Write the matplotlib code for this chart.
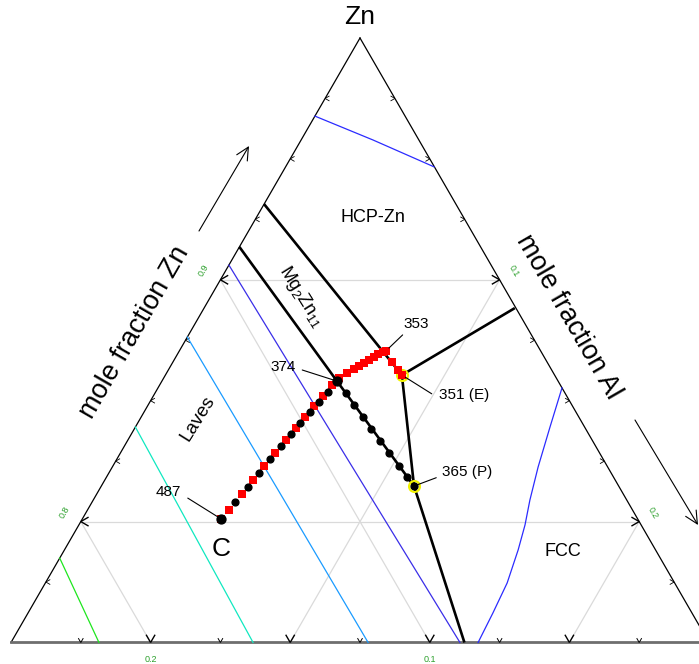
import numpy as np
import matplotlib.pyplot as plt
from matplotlib.patches import FancyArrowPatch

plt.rcParams['font.family'] = ['Liberation Sans', 'DejaVu Sans']
plt.rcParams['mathtext.fontset'] = 'custom'
plt.rcParams['mathtext.rm'] = 'Liberation Sans'

# ---- data: compositions as (x_Al, x_Zn), x_Mg = 1 - x_Al - x_Zn ----
ZN_MIN = 0.75  # lower edge of the zoomed Zn corner

# phase boundaries
hcp_mg2zn11_al = [0.0, 0.0847]
hcp_mg2zn11_zn = [0.9313, 0.8606]
laves_mg2zn11_al = [0.0, 0.0627, 0.1120]
laves_mg2zn11_zn = [0.9136, 0.8581, 0.8147]
hcp_fcc_al = [0.0847, 0.1113]
hcp_fcc_zn = [0.8606, 0.8883]
fcc_mg2zn11_al = [0.0847, 0.1120, 0.1624]
fcc_mg2zn11_zn = [0.8606, 0.8147, 0.7500]

# liquidus isotherms
iso_top_al = [0.0, 0.0258, 0.0532]
iso_top_zn = [0.9677, 0.9578, 0.9467]
iso_blue_al = [0.0, 0.0809, 0.1608]
iso_blue_zn = [0.9061, 0.8275, 0.7500]
iso_sky_al = [0.0, 0.0641, 0.1279]
iso_sky_zn = [0.8763, 0.8131, 0.7500]
iso_cyan_al = [0.0, 0.0867]
iso_cyan_zn = [0.8391, 0.7500]
iso_green_al = [0.0, 0.0315]
iso_green_zn = [0.7849, 0.7500]
iso_fcc_al = [0.1447, 0.1485, 0.1525, 0.1564, 0.1598, 0.1625, 0.1654, 0.1665, 0.1673]
iso_fcc_zn = [0.8553, 0.8391, 0.8226, 0.8089, 0.7986, 0.7883, 0.7746, 0.7622, 0.7500]

# solidification paths from alloy C
path_red_al = [0.0497, 0.0507, 0.0520, 0.0531, 0.0541, 0.0554, 0.0566, 0.0577,
               0.0588, 0.0598, 0.0608, 0.0617, 0.0628, 0.0646, 0.0663, 0.0675,
               0.0686, 0.0698, 0.0710, 0.0718, 0.0732, 0.0740, 0.0785, 0.0823, 0.0847]
path_red_zn = [0.8011, 0.8048, 0.8114, 0.8172, 0.8230, 0.8284, 0.8337, 0.8387,
               0.8433, 0.8478, 0.8519, 0.8565, 0.8594, 0.8615, 0.8631, 0.8644,
               0.8656, 0.8668, 0.8681, 0.8693, 0.8701, 0.8706, 0.8660, 0.8627, 0.8606]
path_black_al = [0.0497, 0.0512, 0.0527, 0.0538, 0.0548, 0.0561, 0.0572, 0.0581,
                 0.0594, 0.0606, 0.0617, 0.0627, 0.0684, 0.0737, 0.0795, 0.0848,
                 0.0905, 0.0962, 0.1025, 0.1076, 0.1120]
path_black_zn = [0.8011, 0.8081, 0.8143, 0.8201, 0.8259, 0.8313, 0.8362, 0.8408,
                 0.8453, 0.8495, 0.8536, 0.8581, 0.8532, 0.8482, 0.8433, 0.8383,
                 0.8333, 0.8284, 0.8230, 0.8184, 0.8147]

# labelled points (temperatures in deg C)
pt_names = ['C', '374', '353', 'E', 'P']
pt_al = [0.0497, 0.0627, 0.0740, 0.0847, 0.1120]
pt_zn = [0.8011, 0.8581, 0.8706, 0.8606, 0.8147]
pt_text = ['487', '374', '353', '351 (E)', '365 (P)']

zn_ticks = [0.8, 0.9]
al_ticks = [0.1, 0.2]
mg_ticks = [0.1, 0.2]


def tern(al, zn):
    al = np.asarray(al, float)
    zn = np.asarray(zn, float)
    mg = 1 - al - zn
    return (al - mg) / 2, zn * np.sqrt(3) / 2


PX = 2792.0  # pixels per composition unit


def at(px, py):
    # pixel position -> axes data position, for placing labels
    return (px - 360) / PX, np.sqrt(3) / 2 + (38 - py) / PX


fig = plt.figure(figsize=(6.99, 6.64), dpi=100)
ax = fig.add_axes([0, 0, 1, 1])
ax.set_xlim(-360 / PX, 339 / PX)
ax.set_ylim(np.sqrt(3) / 2 - 626 / PX, np.sqrt(3) / 2 + 38 / PX)
ax.set_aspect('equal')
ax.axis('off')

# ---- grid ----
grid_kw = dict(color='#dadada', lw=0.9, zorder=1)
for v in zn_ticks:
    ax.plot(*tern([0, 1 - v], [v, v]), **grid_kw)
for m in mg_ticks:
    ax.plot(*tern([0, 1 - ZN_MIN - m], [1 - m, ZN_MIN]), **grid_kw)
for a in al_ticks:
    ax.plot(*tern([a, a], [1 - a, ZN_MIN]), **grid_kw)

# ---- triangle edges ----
ax.plot(*tern([0, 0], [1, ZN_MIN]), color='k', lw=0.9, zorder=2)
ax.plot(*tern([0, 1 - ZN_MIN], [1, ZN_MIN]), color='k', lw=0.9, zorder=2)
ax.plot(*tern([0, 1 - ZN_MIN], [ZN_MIN, ZN_MIN]), color='#6e6e6e', lw=2.0, zorder=2)


def chevron(x, y, ang, size, lw):
    s = size / PX
    for da in (150, -150):
        a = np.radians(ang + da)
        ax.plot([x, x + s * np.cos(a)], [y, y + s * np.sin(a)],
                color='k', lw=lw, zorder=3, solid_capstyle='butt')


steps = np.round(np.arange(0.025, 0.25, 0.025), 3)
for t in steps:
    big_lr = abs(t - 0.1) < 1e-6 or abs(t - 0.2) < 1e-6
    big_b = abs((t * 40) % 2) < 1e-6
    x, y = tern(0, 1 - t)
    chevron(x, y, 180, 9 if big_lr else 5, 1.0 if big_lr else 0.6)
    x, y = tern(t, 1 - t)
    chevron(x, y, 0, 9 if big_lr else 5, 1.0 if big_lr else 0.6)
    x, y = tern(1 - ZN_MIN - t, ZN_MIN)
    chevron(x, y, -90, 9 if big_b else 5, 1.0 if big_b else 0.7)

# tick labels
lab_kw = dict(color='#2ca02c', textcoords='offset points', ha='center', va='center')
for v in zn_ticks:
    ax.annotate(f'{v:.1f}', tern(0, v), xytext=(-12, 7), rotation=60,
                fontsize=6.5, **lab_kw)
for a in al_ticks:
    ax.annotate(f'{a:.1f}', tern(a, 1 - a), xytext=(10, 6), rotation=-60,
                fontsize=6.3, **lab_kw)
for m in mg_ticks:
    ax.annotate(f'{m:.1f}', tern(1 - ZN_MIN - m, ZN_MIN), xytext=(0, -12.5),
                fontsize=6.5, **lab_kw)

# ---- liquidus isotherms ----
ax.plot(*tern(iso_top_al, iso_top_zn), color='#2b2bff', lw=0.9, zorder=4)
ax.plot(*tern(iso_blue_al, iso_blue_zn), color='#3a2ee8', lw=0.9, zorder=4)
ax.plot(*tern(iso_sky_al, iso_sky_zn), color='#1a9bff', lw=0.9, zorder=4)
ax.plot(*tern(iso_cyan_al, iso_cyan_zn), color='#10e8c0', lw=0.9, zorder=4)
ax.plot(*tern(iso_green_al, iso_green_zn), color='#1ee61e', lw=0.9, zorder=4)
ax.plot(*tern(iso_fcc_al, iso_fcc_zn), color='#2b2bff', lw=0.9, zorder=4)

# ---- phase boundaries ----
bkw = dict(color='k', lw=1.9, zorder=5, solid_capstyle='butt')
ax.plot(*tern(hcp_mg2zn11_al, hcp_mg2zn11_zn), **bkw)
ax.plot(*tern(laves_mg2zn11_al, laves_mg2zn11_zn), **bkw)
ax.plot(*tern(hcp_fcc_al, hcp_fcc_zn), **bkw)
ax.plot(*tern(fcc_mg2zn11_al, fcc_mg2zn11_zn), **bkw)

# ---- solidification paths ----
ax.plot(*tern(pt_al[3:], pt_zn[3:]), 'o', ms=7.8, mfc='none', mec='#f2f200',
        mew=1.6, zorder=6)
ax.plot(*tern(path_red_al, path_red_zn), 's', ms=5.3, color='#ff0000', mew=0, zorder=7)
ax.plot(*tern(path_black_al, path_black_zn), 'o', ms=4.9, color='k', zorder=8)
ax.plot(*tern(pt_al[:2], pt_zn[:2]), 'o', ms=6.4, color='k', zorder=8)

# point labels with leader lines
leaders = {
    'C': ((-24, 15), (-38, 19.5), 'center'),
    '374': ((-25, 8), (-39, 10), 'center'),
    '353': ((12, 11.5), (22, 19.5), 'center'),
    'E': ((21.5, -13.5), (27, -14.5), 'left'),
    'P': ((16, 6), (20, 10), 'left'),
}
for name, al, zn, txt in zip(pt_names, pt_al, pt_zn, pt_text):
    lstart, toff, ha = leaders[name]
    xy = tern(al, zn)
    ax.annotate('', xy=xy, xytext=lstart, textcoords='offset points',
                arrowprops=dict(arrowstyle='-', lw=0.8, color='k',
                                shrinkA=0, shrinkB=3), zorder=9)
    ax.annotate(txt, xy, xytext=toff, textcoords='offset points',
                ha=ha, va='center', fontsize=11, zorder=9)

ax.annotate('C', tern(pt_al[0], pt_zn[0]), xytext=(0, -22),
            textcoords='offset points', ha='center', va='center', fontsize=19)

# ---- region and axis labels ----
ax.text(*at(373, 218), 'HCP-Zn', fontsize=13, ha='center', va='center')
ax.text(*at(563, 552), 'FCC', fontsize=13, ha='center', va='center')
ax.text(*at(198, 418), 'Laves', fontsize=13.5, rotation=58,
        ha='center', va='center')
ax.text(*at(301, 297), r'Mg$_\mathrm{2}$Zn$_\mathrm{11}$', fontsize=13,
        rotation=-58, ha='center', va='center')

fig.text(360 / 699, 1 - 17 / 664, 'Zn', fontsize=19, ha='center', va='center')
fig.text(135 / 699, 1 - 332 / 664, 'mole fraction Zn', fontsize=19.5,
         rotation=60, ha='center', va='center', rotation_mode='anchor')
fig.text(568 / 699, 1 - 317 / 664, 'mole fraction Al', fontsize=19.5,
         rotation=-60, ha='center', va='center', rotation_mode='anchor')

for p0, p1 in [((199, 231), (249, 146)), ((635, 420), (698, 525))]:
    fig.patches.append(FancyArrowPatch(
        (p0[0] / 699, 1 - p0[1] / 664), (p1[0] / 699, 1 - p1[1] / 664),
        transform=fig.transFigure, arrowstyle='->,head_length=0.45,head_width=0.22',
        mutation_scale=20, lw=0.8, color='k', shrinkA=0, shrinkB=0))

fig.savefig('out.png', dpi=100)
